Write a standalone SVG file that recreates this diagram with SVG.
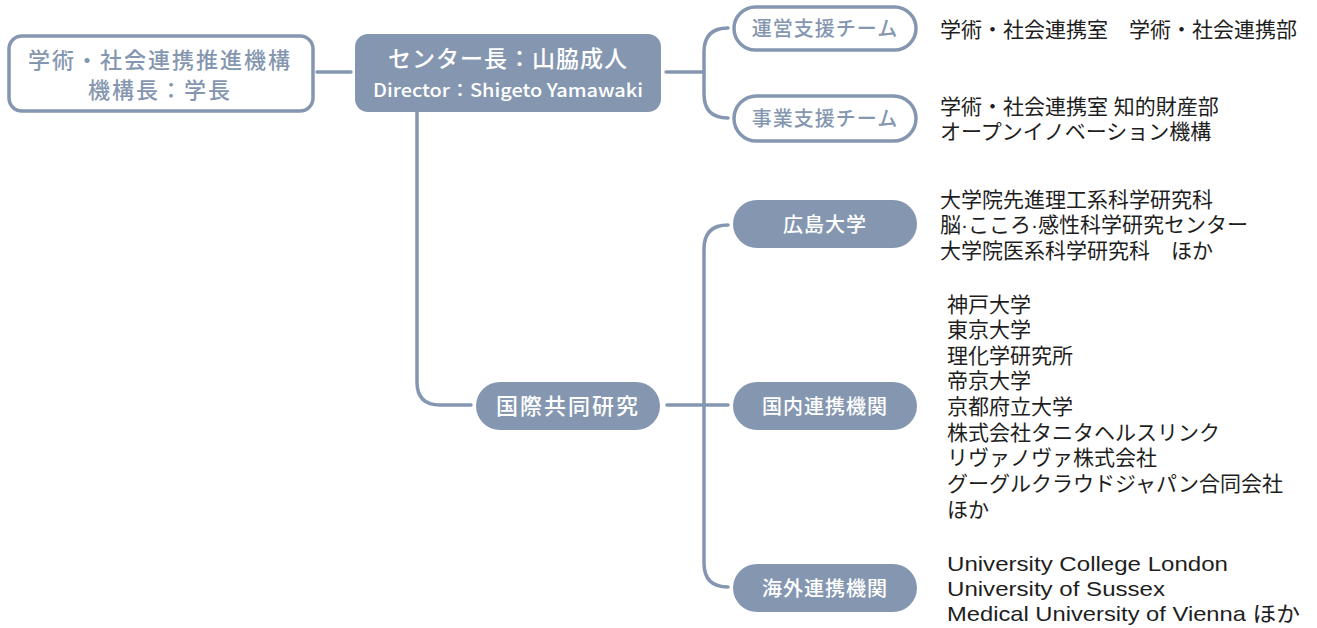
<svg xmlns="http://www.w3.org/2000/svg" width="1317" height="628" viewBox="0 0 1317 628">
<style>
.ln{fill:none;stroke:#8597b0;stroke-width:3.5;stroke-linecap:round}
.fillbox{fill:#8597b0}
.outbox{fill:#fff;stroke:#8597b0;stroke-width:3.5}
.wt{fill:#fff;font-family:"Noto Sans CJK JP","Liberation Sans",sans-serif;font-weight:500;text-anchor:middle}
.bt{fill:#8597b0;font-family:"Noto Sans CJK JP","Liberation Sans",sans-serif;font-weight:500;text-anchor:middle}
.lt{fill:#1e1e1e;font-family:"Liberation Sans","Noto Sans CJK JP",sans-serif;font-size:21px}
</style>
<rect width="1317" height="628" fill="#fff"/>
<g id="connectors">
<path class="ln" d="M317,72 L351,72"/>
<path class="ln" d="M666,72 L704,72"/>
<path class="ln" d="M728,28 Q704,28 704,52 L704,94 Q704,118 728,118"/>
<path class="ln" d="M417,112 L417,382 Q417,405 440,405 L471,405"/>
<path class="ln" d="M667,405 L728,405"/>
<path class="ln" d="M728,225 Q704,225 704,249 L704,563 Q704,587 728,587"/>
</g>
<g id="n-kikou">
<rect class="outbox" x="9" y="36" width="304" height="75" rx="13"/>
<text class="bt" x="160" y="68" font-size="22" letter-spacing="2">学術・社会連携推進機構</text>
<text class="bt" x="160" y="98" font-size="22" letter-spacing="2">機構長：学長</text>
</g>
<g id="n-center">
<rect class="fillbox" x="355" y="34" width="306" height="78" rx="13"/>
<text class="wt" x="508" y="67" font-size="23" letter-spacing="1">センター長：山脇成人</text>
<text class="wt" x="508" y="97" font-size="18" font-weight="400" textLength="270" lengthAdjust="spacingAndGlyphs">Director：Shigeto Yamawaki</text>
</g>
<g id="n-unei">
<rect class="outbox" x="734" y="7" width="182" height="43" rx="21.5"/>
<text class="bt" x="825" y="36" font-size="20" letter-spacing="1">運営支援チーム</text>
</g>
<g id="n-jigyo">
<rect class="outbox" x="734" y="96" width="182" height="45" rx="22.5"/>
<text class="bt" x="825" y="126" font-size="20" letter-spacing="1">事業支援チーム</text>
</g>
<g id="n-kokusai">
<rect class="fillbox" x="476" y="382" width="184" height="48" rx="24"/>
<text class="wt" x="568" y="414" font-size="22" letter-spacing="2">国際共同研究</text>
</g>
<g id="n-hiroshima">
<rect class="fillbox" x="733" y="200" width="184" height="48" rx="24"/>
<text class="wt" x="825" y="232" font-size="20" letter-spacing="1">広島大学</text>
</g>
<g id="n-kokunai">
<rect class="fillbox" x="733" y="382" width="184" height="48" rx="24"/>
<text class="wt" x="825" y="414" font-size="20" letter-spacing="1">国内連携機関</text>
</g>
<g id="n-kaigai">
<rect class="fillbox" x="733" y="564" width="184" height="48" rx="24"/>
<text class="wt" x="825" y="596" font-size="20" letter-spacing="1">海外連携機関</text>
</g>
<g id="lists">
<text class="lt" x="940" y="37">学術・社会連携室　学術・社会連携部</text>
<text class="lt" x="940" y="114">学術・社会連携室 知的財産部</text>
<text class="lt" x="940" y="139">オープンイノベーション機構</text>
<text class="lt" x="940" y="207">大学院先進理工系科学研究科</text>
<text class="lt" x="940" y="232">脳·こころ·感性科学研究センター</text>
<text class="lt" x="940" y="258">大学院医系科学研究科　ほか</text>
<text class="lt" x="947" y="312">神戸大学</text>
<text class="lt" x="947" y="337">東京大学</text>
<text class="lt" x="947" y="363">理化学研究所</text>
<text class="lt" x="947" y="388">帝京大学</text>
<text class="lt" x="947" y="414">京都府立大学</text>
<text class="lt" x="947" y="440">株式会社タニタヘルスリンク</text>
<text class="lt" x="947" y="465">リヴァノヴァ株式会社</text>
<text class="lt" x="947" y="491">グーグルクラウドジャパン合同会社</text>
<text class="lt" x="947" y="517">ほか</text>
<text class="lt" x="947" y="571" textLength="281" lengthAdjust="spacingAndGlyphs">University College London</text>
<text class="lt" x="947" y="596" textLength="218" lengthAdjust="spacingAndGlyphs">University of Sussex</text>
<text class="lt" x="947" y="621" textLength="353" lengthAdjust="spacingAndGlyphs">Medical University of Vienna ほか</text>
</g>
</svg>
